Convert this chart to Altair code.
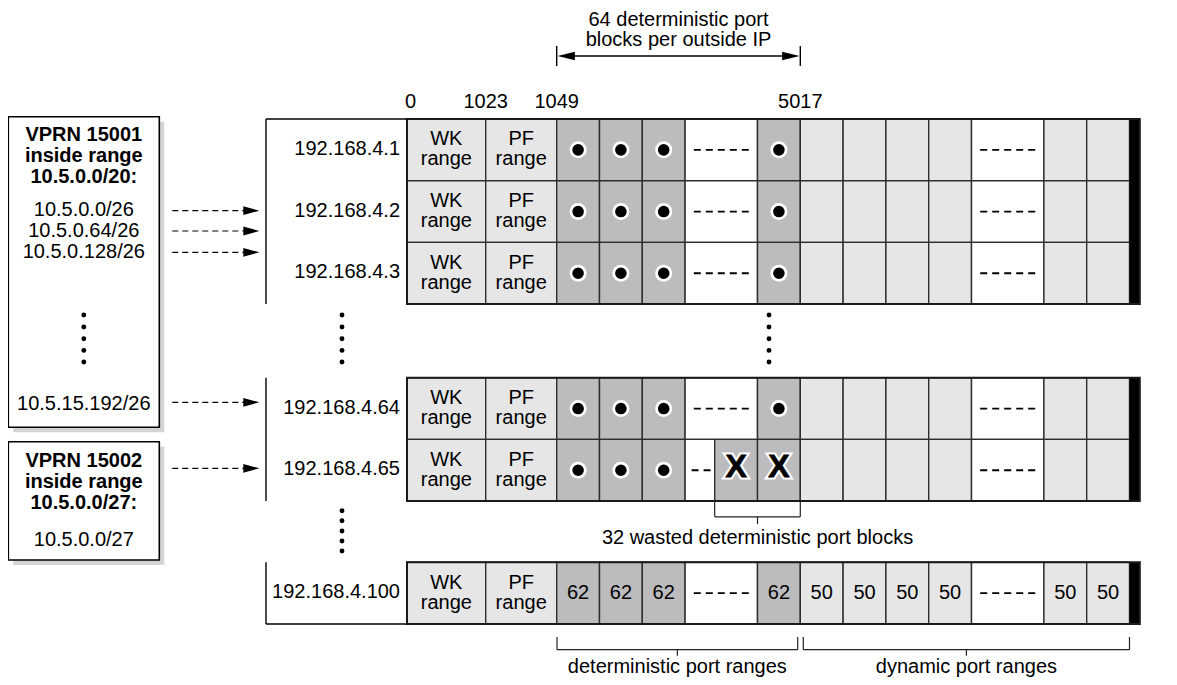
import altair as alt
import pandas as pd

# ---------------- data ----------------
row_labels = ["192.168.4.1", "192.168.4.2", "192.168.4.3",
              "192.168.4.64", "192.168.4.65", "192.168.4.100"]
row_group = [0, 0, 0, 1, 1, 2]
col_kinds = ["WK", "PF", "det", "det", "det", "gap", "det",
             "dyn", "dyn", "dyn", "dyn", "gap", "dyn", "dyn"]
port_ticks = ["0", "1023", "1049", "5017"]
port_tick_cols = [0, 1, 2, 7]
det_block_label = "62"
dyn_block_label = "50"
wasted_row = 4
wasted_cols = [5, 6]
counted_row = 5
vprn1_header = ["VPRN 15001", "inside range", "10.5.0.0/20:"]
vprn1_ranges = ["10.5.0.0/26", "10.5.0.64/26", "10.5.0.128/26", "10.5.15.192/26"]
vprn2_header = ["VPRN 15002", "inside range", "10.5.0.0/27:"]
vprn2_ranges = ["10.5.0.0/27"]
top_note = ["64 deterministic port", "blocks per outside IP"]
wasted_note = "32 wasted deterministic port blocks"
det_note = "deterministic port ranges"
dyn_note = "dynamic port ranges"

# ---------------- layout ----------------
FONT = "Liberation Sans"
FS = 20
X0 = 407.0
COL_W = {"WK": 78.7, "PF": 71.0, "det": 42.8, "gap": 72.4, "dyn": 42.8}
BAR_W = 10.3
GROUP_TOP = [119.0, 377.7, 562.3]
ROW_H = 61.7
LBL_X = 266.0
C_LIGHT = "#e6e6e6"
C_DET = "#bcbcbf"
C_GRID = "#2e2e2e"

edges = [X0]
for k in col_kinds:
    edges.append(edges[-1] + COL_W[k])
X_END = edges[-1]

row_top = []
seen = {}
for g in row_group:
    i = seen.get(g, 0)
    row_top.append(GROUP_TOP[g] + i * ROW_H)
    seen[g] = i + 1
group_bottom = [GROUP_TOP[g] + seen[g] * ROW_H for g in range(3)]

W, H = 1145, 669
XS = alt.Scale(domain=[8, 8 + W], nice=False, zero=False)
YS = alt.Scale(domain=[8, 8 + H], nice=False, zero=False, reverse=True)


def X(f):
    return alt.X(f, type="quantitative", scale=XS, axis=None)


def Y(f):
    return alt.Y(f, type="quantitative", scale=YS, axis=None)


# ---------------- cells ----------------
cells, texts, two_line, dots, xs, dashes = [], [], [], [], [], []
for r, lab in enumerate(row_labels):
    y1, y2 = row_top[r], row_top[r] + ROW_H
    yc = (y1 + y2) / 2
    for c, kind in enumerate(col_kinds):
        a, b = edges[c], edges[c + 1]
        cx = (a + b) / 2
        if kind in ("WK", "PF"):
            cells.append(dict(x=a, x2=b, y=y1, y2=y2, fill=C_LIGHT))
            two_line.append(dict(x=cx, y=yc - 10.5, text=kind))
            two_line.append(dict(x=cx, y=yc + 9.5, text="range"))
        elif kind == "gap":
            if r == wasted_row and c in wasted_cols:
                split = edges[c + 1] - COL_W["det"]
                cells.append(dict(x=a, x2=split, y=y1, y2=y2, fill="white"))
                cells.append(dict(x=split, x2=b, y=y1, y2=y2, fill=C_DET))
                dashes.append(dict(x=a + 6.5, x2=a + 25.5, y=yc, y2=yc))
                xs.append(dict(x=(split + b) / 2, y=yc - 3))
            else:
                cells.append(dict(x=a, x2=b, y=y1, y2=y2, fill="white"))
                dashes.append(dict(x=cx - 27.5, x2=cx + 27.5, y=yc, y2=yc))
        elif kind == "det":
            cells.append(dict(x=a, x2=b, y=y1, y2=y2, fill=C_DET))
            if r == counted_row:
                texts.append(dict(x=cx, y=yc, text=det_block_label))
            elif r == wasted_row and c in wasted_cols:
                xs.append(dict(x=cx, y=yc - 3))
            else:
                dots.append(dict(x=cx, y=yc))
        else:
            cells.append(dict(x=a, x2=b, y=y1, y2=y2, fill=C_LIGHT))
            if r == counted_row:
                texts.append(dict(x=cx, y=yc, text=dyn_block_label))

cells_df = pd.DataFrame(cells)
bars_df = pd.DataFrame([dict(x=X_END, x2=X_END + BAR_W, y=GROUP_TOP[g], y2=group_bottom[g]) for g in range(3)])
frames_df = pd.DataFrame([dict(x=X0, x2=X_END + BAR_W, y=GROUP_TOP[g], y2=group_bottom[g]) for g in range(3)])

cell_layer = alt.Chart(cells_df).mark_rect(stroke=C_GRID, strokeWidth=1.4).encode(
    x=X("x"), x2="x2", y=Y("y"), y2="y2", fill=alt.Fill("fill:N", scale=None))
bar_layer = alt.Chart(bars_df).mark_rect(color="black").encode(x=X("x"), x2="x2", y=Y("y"), y2="y2")
frame_layer = alt.Chart(frames_df).mark_rect(fill=None, fillOpacity=0, stroke="#1a1a1a", strokeWidth=2).encode(
    x=X("x"), x2="x2", y=Y("y"), y2="y2")


def text_layer(df, size=FS, weight="normal", align="center", color="black", **kw):
    return alt.Chart(pd.DataFrame(df)).mark_text(
        font=FONT, fontSize=size, fontWeight=weight, align=align, baseline="middle",
        color=color, **kw).encode(
        x=X("x"), y=Y("y"), text=alt.Text("text:N"))


cell_text_layer = text_layer(texts)
two_line_layer = text_layer(two_line)

dots_df = pd.DataFrame(dots)
dot_ring = alt.Chart(dots_df).mark_point(shape="circle", filled=True, color="white", size=290, opacity=1).encode(
    x=X("x"), y=Y("y"))
dot_core = alt.Chart(dots_df).mark_point(shape="circle", filled=True, color="black", size=135, opacity=1).encode(
    x=X("x"), y=Y("y"))

xs_df = pd.DataFrame(xs).assign(text="X")
x_halo = alt.Chart(xs_df).mark_text(font=FONT, fontSize=32, fontWeight="bold", baseline="middle",
                                    color="white", stroke="white", strokeWidth=5).encode(
    x=X("x"), y=Y("y"), text="text:N")
x_core = alt.Chart(xs_df).mark_text(font=FONT, fontSize=32, fontWeight="bold", baseline="middle",
                                    color="black", stroke="black", strokeWidth=0.8).encode(
    x=X("x"), y=Y("y"), text="text:N")

dash_layer = alt.Chart(pd.DataFrame(dashes)).mark_rule(color="black", strokeWidth=1.8, strokeDash=[7, 5]).encode(
    x=X("x"), x2="x2", y=Y("y"))

# ---------------- row labels and their brackets ----------------
row_lbl = [dict(x=X0 - 7, y=row_top[r] + ROW_H / 2 - 1, text=t) for r, t in enumerate(row_labels)]
row_lbl_layer = text_layer(row_lbl, align="right")

segs = []
segs.append(dict(x=LBL_X, y=GROUP_TOP[0], x2=X0, y2=GROUP_TOP[0]))
for g in range(3):
    segs.append(dict(x=LBL_X, y=GROUP_TOP[g], x2=LBL_X, y2=group_bottom[g]))
segs.append(dict(x=LBL_X, y=group_bottom[2], x2=X0, y2=group_bottom[2]))
ta, tb = edges[2], edges[7]
segs.append(dict(x=ta, y=46, x2=ta, y2=66))
segs.append(dict(x=tb, y=46, x2=tb, y2=66))
segs.append(dict(x=ta + 4, y=56, x2=tb - 4, y2=56))
seg_layer = alt.Chart(pd.DataFrame(segs)).mark_rule(color="black", strokeWidth=1.4).encode(
    x=X("x"), y=Y("y"), x2="x2", y2="y2")

brk = []


def bracket(a, b, top, depth, tick, mid=None):
    m = (a + b) / 2 if mid is None else mid
    brk.extend([
        dict(x=a, y=top, x2=a, y2=top + depth),
        dict(x=a, y=top + depth, x2=b, y2=top + depth),
        dict(x=b, y=top, x2=b, y2=top + depth),
        dict(x=m, y=top + depth, x2=m, y2=top + depth + tick),
    ])
    return m


w_a = edges[wasted_cols[1]] - COL_W["det"]
w_b = edges[wasted_cols[1] + 1]
wm = bracket(w_a, w_b, group_bottom[1], 15.7, 7.3)
dm = bracket(edges[2] + 0.3, edges[7] - 2.6, 637, 12.7, 6.0)
ym = bracket(edges[7] + 3, X_END, 637, 12.7, 6.0)
brk_layer = alt.Chart(pd.DataFrame(brk)).mark_rule(color="#222222", strokeWidth=1.2).encode(
    x=X("x"), y=Y("y"), x2="x2", y2="y2")

notes = [
    dict(x=(ta + tb) / 2, y=19.5, text=top_note[0]),
    dict(x=(ta + tb) / 2, y=40, text=top_note[1]),
    dict(x=wm, y=538, text=wasted_note),
    dict(x=dm, y=667, text=det_note),
    dict(x=ym, y=667, text=dyn_note),
]
notes_layer = text_layer(notes)

ticks = [dict(x=edges[c], y=102, text=t) for t, c in zip(port_ticks, port_tick_cols) if t != "0"]
ticks_layer = text_layer(ticks)
tick0_layer = text_layer([dict(x=edges[0] - 2, y=102, text=port_ticks[0])], align="left")

heads = pd.DataFrame([dict(x=ta + 9.5, y=56, s="L"), dict(x=tb - 9.5, y=56, s="R")])
head_r = alt.Chart(heads[heads.s == "R"]).mark_point(
    shape="M -1 -0.5 L 1 0 L -1 0.5 Z", filled=True, color="black", size=300, opacity=1).encode(x=X("x"), y=Y("y"))
head_l = alt.Chart(heads[heads.s == "L"]).mark_point(
    shape="M 1 -0.5 L -1 0 L 1 0.5 Z", filled=True, color="black", size=300, opacity=1).encode(x=X("x"), y=Y("y"))

# ---------------- VPRN boxes ----------------
boxes = pd.DataFrame([dict(x=8.3, x2=159.3, y=116.7, y2=427.3), dict(x=8.3, x2=159.3, y=441.7, y2=560.0)])
shadow = boxes.assign(x=boxes.x + 5, x2=boxes.x2 + 5, y=boxes.y + 5, y2=boxes.y2 + 5)
shadow_layer = alt.Chart(shadow).mark_rect(color="#d4d4d4").encode(x=X("x"), x2="x2", y=Y("y"), y2="y2")
box_layer = alt.Chart(boxes).mark_rect(fill="white", stroke="black", strokeWidth=1.6).encode(
    x=X("x"), x2="x2", y=Y("y"), y2="y2")

BOX_CX = 83.8
hdr = [dict(x=BOX_CX, y=yy, text=t) for t, yy in zip(vprn1_header, [134.5, 156, 177])]
hdr += [dict(x=BOX_CX, y=yy, text=t) for t, yy in zip(vprn2_header, [460.5, 481.5, 503])]
hdr_layer = text_layer(hdr, weight="bold")
rng = [dict(x=BOX_CX, y=yy, text=t) for t, yy in zip(vprn1_ranges, [210, 231, 252, 403.5])]
rng += [dict(x=BOX_CX, y=yy, text=t) for t, yy in zip(vprn2_ranges, [540])]
rng_layer = text_layer(rng)

vd = []
for cx in [BOX_CX, 342.0, 769.0]:
    for yy in [315.0, 327.0, 338.7, 350.4, 362.0]:
        vd.append(dict(x=cx, y=yy))
for yy in [510.7, 520.8, 531.0, 541.0, 551.0]:
    vd.append(dict(x=342.0, y=yy))
vd_layer = alt.Chart(pd.DataFrame(vd)).mark_point(shape="circle", filled=True, color="black", size=24, opacity=1).encode(
    x=X("x"), y=Y("y"))

arrow_y = [210.7, 231.0, 252.3, 402.3, 468.3]
arr = pd.DataFrame([dict(x=172.3, x2=244.0, y=yy) for yy in arrow_y])
arr_layer = alt.Chart(arr).mark_rule(color="black", strokeWidth=1.2, strokeDash=[6, 4]).encode(
    x=X("x"), x2="x2", y=Y("y"))
arr_head = alt.Chart(pd.DataFrame([dict(x=251.3, y=yy) for yy in arrow_y])).mark_point(
    shape="M -1 -0.55 L 1 0 L -1 0.55 Z", filled=True, color="black", size=256, opacity=1).encode(
    x=X("x"), y=Y("y"))

chart = alt.layer(
    shadow_layer, box_layer, hdr_layer, rng_layer, vd_layer, arr_layer, arr_head,
    cell_layer, bar_layer, frame_layer, cell_text_layer, two_line_layer, dash_layer,
    dot_ring, dot_core, x_halo, x_core,
    row_lbl_layer, seg_layer, brk_layer, notes_layer, ticks_layer, tick0_layer, head_l, head_r,
).properties(width=W, height=H, padding=0, autosize="none").configure_view(stroke=None)

chart.save("out.html", embed_options={"renderer": "svg", "actions": False})
